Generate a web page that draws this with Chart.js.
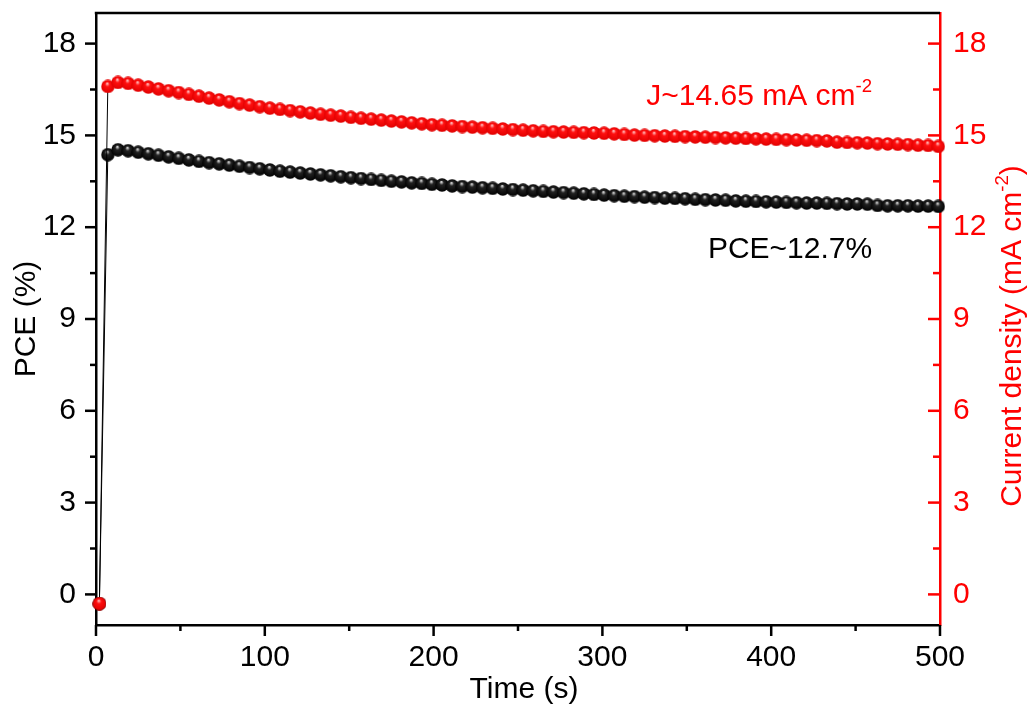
<!DOCTYPE html>
<html>
<head>
<meta charset="utf-8">
<script src="https://cdn.jsdelivr.net/npm/chart.js@4/dist/chart.umd.min.js"></script>
<style>
  html, body { margin: 0; padding: 0; background: #fff; }
</style>
</head>
<body>
<canvas id="chart1" width="1031" height="713"></canvas>
<script>
// time (s)
const timeS = [
  2, 7, 13, 19, 25, 31, 37, 43, 49, 55,
  61, 67, 73, 79, 85, 91, 97, 103, 109, 115,
  121, 127, 133, 139, 145, 151, 157, 163, 169, 175,
  181, 187, 193, 199, 205, 211, 217, 223, 229, 235,
  241, 247, 253, 259, 265, 271, 277, 283, 289, 295,
  301, 307, 313, 319, 325, 331, 337, 343, 349, 355,
  361, 367, 373, 379, 385, 391, 397, 403, 409, 415,
  421, 427, 433, 439, 445, 451, 457, 463, 469, 475,
  481, 487, 493, 499
];
// PCE (%)
const pce = [
  -0.3, 14.37, 14.53, 14.50, 14.45, 14.40, 14.35, 14.30, 14.25, 14.20,
  14.15, 14.11, 14.07, 14.03, 13.99, 13.95, 13.91, 13.87, 13.83, 13.80,
  13.77, 13.74, 13.71, 13.68, 13.65, 13.62, 13.59, 13.56, 13.53, 13.50,
  13.48, 13.45, 13.43, 13.40, 13.38, 13.35, 13.33, 13.31, 13.29, 13.27,
  13.25, 13.23, 13.21, 13.19, 13.17, 13.15, 13.13, 13.11, 13.09, 13.07,
  13.05, 13.03, 13.01, 13.00, 12.98, 12.97, 12.95, 12.94, 12.93, 12.91,
  12.90, 12.89, 12.88, 12.86, 12.85, 12.84, 12.83, 12.82, 12.81, 12.80,
  12.79, 12.79, 12.78, 12.77, 12.76, 12.76, 12.75, 12.71, 12.70, 12.70,
  12.70, 12.69, 12.69, 12.68
];
// current density (mA cm-2)
const current = [
  -0.3, 16.60, 16.73, 16.70, 16.64, 16.58, 16.52, 16.46, 16.40, 16.34,
  16.28, 16.22, 16.16, 16.10, 16.04, 15.99, 15.94, 15.89, 15.85, 15.81,
  15.77, 15.73, 15.69, 15.66, 15.63, 15.59, 15.56, 15.53, 15.50, 15.47,
  15.44, 15.41, 15.38, 15.35, 15.33, 15.31, 15.29, 15.27, 15.25, 15.23,
  15.21, 15.19, 15.17, 15.15, 15.13, 15.12, 15.11, 15.10, 15.09, 15.08,
  15.07, 15.05, 15.03, 15.01, 15.00, 14.99, 14.98, 14.97, 14.96, 14.95,
  14.94, 14.93, 14.92, 14.91, 14.90, 14.89, 14.88, 14.87, 14.86, 14.85,
  14.84, 14.83, 14.82, 14.78, 14.77, 14.76, 14.75, 14.73, 14.72, 14.71,
  14.70, 14.68, 14.67, 14.64
];

const xTicks = [0, 100, 200, 300, 400, 500];
const xMinor = [50, 150, 250, 350, 450];
const yTicks = [0, 3, 6, 9, 12, 15, 18];
const yMinor = [1.5, 4.5, 7.5, 10.5, 13.5, 16.5];

const FONT = '"Liberation Sans", Arial, sans-serif';
const RED = '#ff0000';

// little shaded balls for the markers
function sphere(hi, base, dark, r) {
  const c = document.createElement('canvas');
  c.width = c.height = r * 2;
  const g = c.getContext('2d');
  const grad = g.createRadialGradient(r * 0.9, r * 0.55, 0.3, r, r, r);
  grad.addColorStop(0, hi);
  grad.addColorStop(0.3, base);
  grad.addColorStop(1, dark);
  g.fillStyle = grad;
  g.beginPath();
  g.arc(r, r, r - 0.3, 0, Math.PI * 2);
  g.fill();
  return c;
}
const blackBall = sphere('#e0e0e0', '#222222', '#000000', 7);
const redBall = sphere('#ffc8c8', '#ff1010', '#e00000', 7);

// text with a "-2" superscript
function drawParts(ctx, parts, x, y, size, align) {
  let w = 0;
  parts.forEach(p => {
    ctx.font = (p.sup ? size * 0.62 : size) + 'px ' + FONT;
    w += ctx.measureText(p.t).width;
  });
  let cx = align === 'center' ? x - w / 2 : x;
  ctx.textAlign = 'left';
  ctx.textBaseline = 'alphabetic';
  parts.forEach(p => {
    ctx.font = (p.sup ? size * 0.62 : size) + 'px ' + FONT;
    ctx.fillText(p.t, cx, p.sup ? y - size * 0.42 : y);
    cx += ctx.measureText(p.t).width;
  });
}

const decor = {
  id: 'decor',
  afterDraw(chart) {
    const ctx = chart.ctx, a = chart.chartArea;
    const sx = chart.scales.x, yl = chart.scales.y, yr = chart.scales.y2;
    ctx.save();
    ctx.lineWidth = 2.5;
    function seg(x1, y1, x2, y2) {
      ctx.beginPath(); ctx.moveTo(x1, y1); ctx.lineTo(x2, y2); ctx.stroke();
    }
    ctx.strokeStyle = '#000';
    seg(a.left - 1.2, a.top, a.right, a.top);
    yTicks.forEach(v => { const p = yl.getPixelForValue(v); seg(a.left - 11, p, a.left, p); });
    yMinor.forEach(v => { const p = yl.getPixelForValue(v); seg(a.left - 6, p, a.left, p); });
    xTicks.forEach(v => { const p = sx.getPixelForValue(v); seg(p, a.bottom, p, a.bottom + 11); });
    xMinor.forEach(v => { const p = sx.getPixelForValue(v); seg(p, a.bottom, p, a.bottom + 6); });
    ctx.strokeStyle = RED;
    yTicks.forEach(v => { const p = yr.getPixelForValue(v); seg(a.right - 12, p, a.right, p); });
    yMinor.forEach(v => { const p = yr.getPixelForValue(v); seg(a.right - 7, p, a.right, p); });

    // axis titles
    ctx.fillStyle = '#000';
    ctx.font = '30px ' + FONT;
    ctx.textAlign = 'center';
    ctx.textBaseline = 'middle';
    ctx.fillText('Time (s)', (a.left + a.right) / 2 + 6, 690);
    ctx.save();
    ctx.translate(27, (a.top + a.bottom) / 2);
    ctx.rotate(-Math.PI / 2);
    ctx.fillText('PCE (%)', 0, 0);
    ctx.restore();

    ctx.save();
    ctx.fillStyle = RED;
    ctx.translate(1021, 336);
    ctx.rotate(-Math.PI / 2);
    drawParts(ctx, [{t: 'Current density (mA cm'}, {t: '-2', sup: true}, {t: ')'}], 0, 0, 30, 'center');
    ctx.restore();

    // annotations
    ctx.fillStyle = RED;
    drawParts(ctx, [{t: 'J~14.65 mA cm'}, {t: '-2', sup: true}],
      sx.getPixelForValue(326), yl.getPixelForValue(16.0), 30, 'left');
    ctx.fillStyle = '#000';
    drawParts(ctx, [{t: 'PCE~12.7%'}],
      sx.getPixelForValue(362.5), yl.getPixelForValue(11.0), 30, 'left');
    ctx.restore();
  }
};

function noPad(s) {
  s.paddingTop = 0; s.paddingBottom = 0; s.paddingLeft = 0; s.paddingRight = 0;
}

const data = {
  datasets: [{
    label: 'PCE',
    data: timeS.map((t, i) => ({x: t, y: pce[i]})),
    yAxisID: 'y',
    borderColor: '#000',
    borderWidth: 1,
    pointStyle: blackBall,
    order: 1
  }, {
    label: 'Current density',
    data: timeS.map((t, i) => ({x: t, y: current[i]})),
    yAxisID: 'y2',
    borderColor: '#000',
    borderWidth: 1,
    pointStyle: redBall,
    order: 0
  }]
};

const config = {
  type: 'line',
  data: data,
  options: {
    responsive: false,
    animation: false,
    events: [],
    clip: false,
    layout: { padding: { top: 13, left: 0, right: 0, bottom: 0 } },
    plugins: { legend: { display: false }, tooltip: { enabled: false } },
    scales: {
      x: {
        type: 'linear', min: 0, max: 500,
        afterBuildTicks: s => { s.ticks = xTicks.map(v => ({value: v})); },
        afterFit: s => { s.height = 88; noPad(s); },
        grid: { drawOnChartArea: false, drawTicks: false },
        border: { display: true, color: '#000', width: 2.5 },
        ticks: { color: '#000', font: { family: FONT, size: 30 }, padding: 15, maxRotation: 0 }
      },
      y: {
        position: 'left', min: -1, max: 19,
        afterBuildTicks: s => { s.ticks = yTicks.map(v => ({value: v})); },
        afterFit: s => { s.width = 96; noPad(s); },
        grid: { drawOnChartArea: false, drawTicks: false },
        border: { display: true, color: '#000', width: 2.5 },
        ticks: { color: '#000', font: { family: FONT, size: 30 }, padding: 20 }
      },
      y2: {
        position: 'right', min: -1, max: 19,
        afterBuildTicks: s => { s.ticks = yTicks.map(v => ({value: v})); },
        afterFit: s => { s.width = 91; noPad(s); },
        grid: { drawOnChartArea: false, drawTicks: false },
        border: { display: true, color: RED, width: 2.5 },
        ticks: { color: RED, font: { family: FONT, size: 30 }, padding: 13 }
      }
    }
  },
  plugins: [decor]
};

const myChart = new Chart(document.getElementById('chart1').getContext('2d'), config);
</script>
</body>
</html>
